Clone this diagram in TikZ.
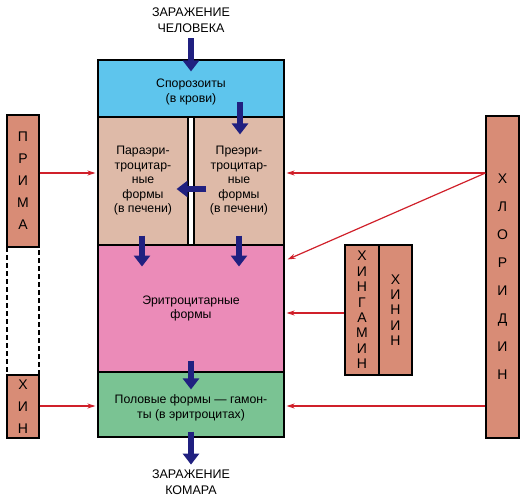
\documentclass[tikz,border=0pt]{standalone}
\usepackage{fontspec}
\setmainfont{Liberation Sans}
\usetikzlibrary{arrows.meta,calc}

\definecolor{sporcol}{RGB}{94,197,237}
\definecolor{livercol}{RGB}{222,186,168}
\definecolor{erycol}{RGB}{235,139,184}
\definecolor{gamcol}{RGB}{122,195,147}
\definecolor{drugcol}{RGB}{216,140,118}
\definecolor{navycol}{RGB}{32,32,128}
\definecolor{redcol}{RGB}{208,32,42}

\begin{document}
\begin{tikzpicture}[x=1pt,y=1pt,yscale=-1,xscale=1,
		stage/.style={draw=black,line width=1.1pt,inner sep=0pt,align=center,font=\fontsize{12.3}{14.5}\selectfont},
		stagetext/.style={inner sep=0pt,align=center,font=\fontsize{12.3}{14.5}\selectfont},
		drug/.style={draw=black,line width=1.1pt,fill=drugcol,inner sep=0pt,align=center,font=\fontsize{14}{22}\selectfont},
		infect/.style={align=center,inner sep=0.75pt,font=\fontsize{12.5}{16}\selectfont},
		navyarr/.style={draw=navycol,line width=6.5pt,-{Triangle[width=16pt,length=11pt]}},
		redarr/.style={draw=redcol,line width=1.2pt,-{Stealth[width=5pt,length=8pt]}}]
				\useasboundingbox (0,0) rectangle (531,504);
				
				%Shape: Rectangle [sporozoites]
				\node [stage,fill=sporcol,minimum width=186,minimum height=57] (spor) at (191,88.5) {};
				%Shape: Rectangle [liver, left]
				\node [stage,fill=livercol,minimum width=90,minimum height=128] (para) at (143,181) {Параэри-\\троцитар-\\ные\\формы\\(в печени)};
				%Shape: Rectangle [liver, right]
				\node [stage,fill=livercol,minimum width=90,minimum height=128] (prer) at (239,181) {Преэри-\\троцитар-\\ные\\формы\\(в печени)};
				%Shape: Rectangle [erythrocytic]
				\node [stage,fill=erycol,minimum width=186,minimum height=127] (eryt) at (191,308.5) {Эритроцитарные\\формы};
				%Shape: Rectangle [gamonts]
				\node [stage,fill=gamcol,minimum width=186,minimum height=65] (gam) at (191,404.5) {};
				
				% Text Node
				\node [stagetext] (sportext) at (191,92) {Спорозоиты\\(в крови)};
				% Text Node
				\node [stagetext] (gamtext) at (191,408) {Половые формы — гамон-\\ты (в эритроцитах)};
				% Text Node
				\node [infect] (human) at (191,20) {ЗАРАЖЕНИЕ\\ЧЕЛОВЕКА};
				% Text Node
				\node [infect] (mosq) at (191,482) {ЗАРАЖЕНИЕ\\КОМАРА};
				
				%Shape: Rectangle [drugs, left]
				\node [drug,minimum width=32,minimum height=132] (prima) at (23,181) {П\\Р\\И\\М\\А};
				\node [draw=black,line width=1.1pt,dash pattern={on 5pt off 3pt},minimum width=32,minimum height=128,inner sep=0pt] (gap) at (23,311) {};
				\node [drug,minimum width=32,minimum height=63] (khin) at (23,406.5) {Х\\И\\Н};
				%Shape: Rectangle [drugs, middle]
				\node [drug,minimum width=34,minimum height=130,font=\fontsize{14}{15.4}\selectfont] (khing) at (362,310) {Х\\И\\Н\\Г\\А\\М\\И\\Н};
				\node [drug,minimum width=33,minimum height=130,font=\fontsize{14}{15.4}\selectfont] (khinin) at (395.5,310) {Х\\И\\Н\\И\\Н};
				%Shape: Rectangle [drugs, right]
				\node [drug,minimum width=33,minimum height=322,font=\fontsize{14}{28}\selectfont] (khlor) at (502.5,277) {Х\\Л\\О\\Р\\И\\Д\\И\\Н};
				
				%Navy arrows
				\draw [navyarr] ($(human.south)+(0,5)$) -- ($(spor.north)+(0,12)$);
				\draw [navyarr] ($(prer.north)+(1,-14)$) -- ($(prer.north)+(1,18)$);
				\draw [navyarr] ($(prer.west)+(13,8)$) -- ($(para.east)+(-12,8)$);
				\draw [navyarr] ($(para.south)+(-1,-10)$) -- ($(para.south)+(-1,21)$);
				\draw [navyarr] ($(prer.south)+(0,-10)$) -- ($(prer.south)+(0,21)$);
				\draw [navyarr] ($(eryt.south)+(0,-12)$) -- ($(gam.north)+(0,18)$);
				\draw [navyarr] ($(gam.south)+(0,-6)$) -- ($(mosq.north)+(0,-4)$);
				
				%Red arrows
				\coordinate (rowA) at (0,173);
				\coordinate (rowB) at (0,313);
				\coordinate (rowC) at (0,406);
				\draw [redarr] (prima.east |- rowA) -- ($(para.west |- rowA)+(-2,0)$);
				\draw [redarr] (khin.east |- rowC) -- ($(gam.west |- rowC)+(-2,0)$);
				\draw [redarr] (khlor.west |- rowA) -- ($(prer.east |- rowA)+(2,0)$);
				\draw [redarr] (khlor.west |- rowA) -- ($(eryt.north east)+(3,15)$);
				\draw [redarr] (khing.west |- rowB) -- ($(eryt.east |- rowB)+(2,0)$);
				\draw [redarr] (khlor.west |- rowC) -- ($(gam.east |- rowC)+(2,0)$);
				
			\end{tikzpicture}
\end{document}
